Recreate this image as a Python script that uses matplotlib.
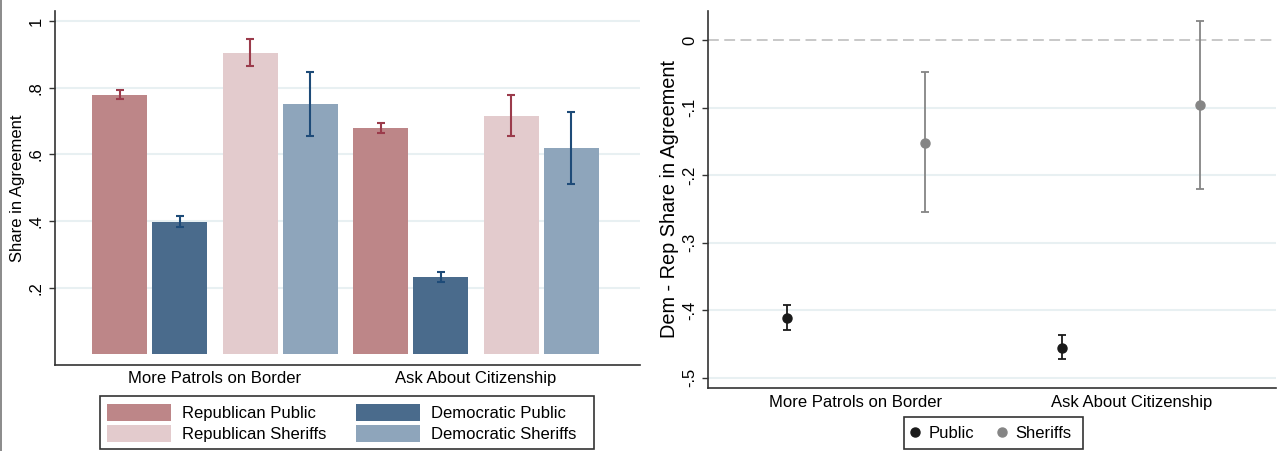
import matplotlib
matplotlib.use("Agg")
import matplotlib.pyplot as plt
from matplotlib.lines import Line2D
from matplotlib.patches import Patch, Rectangle
import numpy as np

plt.rcParams['font.family'] = ['Liberation Sans', 'DejaVu Sans']

# ---------------- data ----------------
questions = ["More Patrols on Border", "Ask About Citizenship"]
series = ["Republican Public", "Democratic Public", "Republican Sheriffs", "Democratic Sheriffs"]

rep_public = [0.777, 0.679]
rep_public_lo = [0.765, 0.663]
rep_public_hi = [0.794, 0.695]

dem_public = [0.397, 0.232]
dem_public_lo = [0.382, 0.218]
dem_public_hi = [0.415, 0.247]

rep_sheriffs = [0.904, 0.715]
rep_sheriffs_lo = [0.865, 0.654]
rep_sheriffs_hi = [0.946, 0.778]

dem_sheriffs = [0.751, 0.619]
dem_sheriffs_lo = [0.654, 0.512]
dem_sheriffs_hi = [0.846, 0.728]

diff_groups = ["Public", "Sheriffs"]
diff_public = [-0.411, -0.456]
diff_public_lo = [-0.429, -0.473]
diff_public_hi = [-0.393, -0.437]
diff_sheriffs = [-0.152, -0.097]
diff_sheriffs_lo = [-0.255, -0.221]
diff_sheriffs_hi = [-0.048, 0.028]

left_yticks = [0.2, 0.4, 0.6, 0.8, 1.0]
left_yticklabels = [".2", ".4", ".6", ".8", "1"]
right_yticks = [0, -0.1, -0.2, -0.3, -0.4, -0.5]
right_yticklabels = ["0", "-.1", "-.2", "-.3", "-.4", "-.5"]

# ---------------- style ----------------
C_REP_PUB = "#bd8688"
C_DEM_PUB = "#4a6b8c"
C_REP_SH = "#e3cbcd"
C_DEM_SH = "#8ea5bb"
C_REP_ERR = "#9b3b4b"
C_DEM_ERR = "#1e4b78"
C_PUB = "#1a1a1a"
C_SH = "#858585"
GRID = "#e8f0f2"
SPINE = "#333333"

W, H = 1277, 451
fig = plt.figure(figsize=(W / 100, H / 100), dpi=100)


def fax(l, t, r, b):
    return [l / W, 1 - b / H, (r - l) / W, (b - t) / H]


def frame_box(l, t, r, b):
    fig.add_artist(Rectangle((l / W, 1 - b / H), (r - l) / W, (b - t) / H,
                             transform=fig.transFigure, fill=False,
                             edgecolor="#333333", lw=1.2, zorder=5))


def style_axes(ax):
    for s in ["top", "right"]:
        ax.spines[s].set_visible(False)
    for s in ["left", "bottom"]:
        ax.spines[s].set_color(SPINE)
        ax.spines[s].set_linewidth(1.2)
    ax.tick_params(axis="y", direction="out", length=4.5, width=1, color=SPINE,
                   labelsize=12, pad=3.5, labelrotation=90)
    ax.tick_params(axis="x", length=0, labelsize=12, pad=5)
    for lab in ax.get_yticklabels():
        lab.set_va("center")
    ax.set_axisbelow(True)


# ---------------- left panel ----------------
ax1 = fig.add_axes(fax(55, 11, 640, 364.5))
bw = 55 / 60
c0 = 1.075
pitch = 2.175
vals = [rep_public, dem_public, rep_sheriffs, dem_sheriffs]
los = [rep_public_lo, dem_public_lo, rep_sheriffs_lo, dem_sheriffs_lo]
his = [rep_public_hi, dem_public_hi, rep_sheriffs_hi, dem_sheriffs_hi]
cols = [C_REP_PUB, C_DEM_PUB, C_REP_SH, C_DEM_SH]
ecols = [C_REP_ERR, C_DEM_ERR, C_REP_ERR, C_DEM_ERR]

for gl in left_yticks:
    ax1.axhline(gl, color=GRID, lw=1.5, zorder=0)

group_centers = []
for g in range(len(questions)):
    xs_g = []
    for s in range(4):
        pair = 2 * g + s // 2
        x = c0 + pair * pitch + (s % 2)
        xs_g.append(x)
        v = vals[s][g]
        ax1.bar(x, v, width=bw, color=cols[s], zorder=2,
                label=series[s] if g == 0 else None)
        ax1.errorbar(x, v, yerr=[[v - los[s][g]], [his[s][g] - v]], fmt="none",
                     ecolor=ecols[s], elinewidth=1.5, capsize=3, capthick=1.5, zorder=3)
    group_centers.append(np.mean(xs_g))

ax1.set_xlim(0, 9.75)
ax1.set_ylim(-0.0306, 1.030)
ax1.set_yticks(left_yticks)
ax1.set_yticklabels(left_yticklabels)
ax1.set_xticks(group_centers)
ax1.set_xticklabels(questions)
ax1.set_ylabel("Share in Agreement", fontsize=12, labelpad=2.5)
style_axes(ax1)

handles = [Patch(facecolor=cols[i]) for i in [0, 2, 1, 3]]
labels = [series[i] for i in [0, 2, 1, 3]]
leg1 = fig.legend(handles, labels, ncol=2, loc="center left",
                  bbox_to_anchor=(107 / W, 1 - 423 / H), borderaxespad=0,
                  fontsize=12, frameon=False,
                  handlelength=3.83, handleheight=1.2, handletextpad=0.66,
                  columnspacing=1.8, labelspacing=0.2, borderpad=0)
frame_box(100, 396, 594, 449)

# ---------------- right panel ----------------
ax2 = fig.add_axes(fax(708, 11, 1276, 387.7))
for gl in right_yticks[1:]:
    ax2.axhline(gl, color=GRID, lw=1.5, zorder=0)
ax2.axhline(0, color="#c4c4c4", lw=1.3, ls=(0, (6, 3)), zorder=1)

xp = [1 + 2 * g for g in range(len(questions))]
xs = [2 + 2 * g for g in range(len(questions))]
for g in range(len(questions)):
    ax2.errorbar(xp[g], diff_public[g],
                 yerr=[[diff_public[g] - diff_public_lo[g]], [diff_public_hi[g] - diff_public[g]]],
                 fmt="o", color=C_PUB, ms=6.5, ecolor=C_PUB, elinewidth=1.3,
                 capsize=3, capthick=1.3, zorder=3)
    ax2.errorbar(xs[g], diff_sheriffs[g],
                 yerr=[[diff_sheriffs[g] - diff_sheriffs_lo[g]], [diff_sheriffs_hi[g] - diff_sheriffs[g]]],
                 fmt="o", color=C_SH, ms=6.5, ecolor=C_SH, elinewidth=1.3,
                 capsize=3, capthick=1.3, zorder=3)

ax2.set_xlim(0.4262, 4.552)
ax2.set_ylim(-0.5148, 0.0429)
ax2.set_yticks(right_yticks)
ax2.set_yticklabels(right_yticklabels)
ax2.set_xticks([1.5, 3.5])
ax2.set_xticklabels(questions)
ax2.set_ylabel("Dem - Rep Share in Agreement", fontsize=14.3, labelpad=2)
style_axes(ax2)

h2 = [Line2D([], [], marker="o", ls="none", color=C_PUB, ms=6.5),
      Line2D([], [], marker="o", ls="none", color=C_SH, ms=6.5)]
leg2 = fig.legend(h2, diff_groups, ncol=2, loc="center left",
                  bbox_to_anchor=(910 / W, 1 - 433 / H), borderaxespad=0,
                  fontsize=12, frameon=False,
                  handlelength=0.6, handletextpad=0.54, columnspacing=1.32,
                  borderpad=0)
frame_box(904, 417, 1083, 449)

# left border line of the figure
fig.add_artist(Line2D([0.6 / W, 0.6 / W], [0, 1], transform=fig.transFigure,
                      color="#777777", lw=1.2))

fig.savefig("out.png", dpi=100)
